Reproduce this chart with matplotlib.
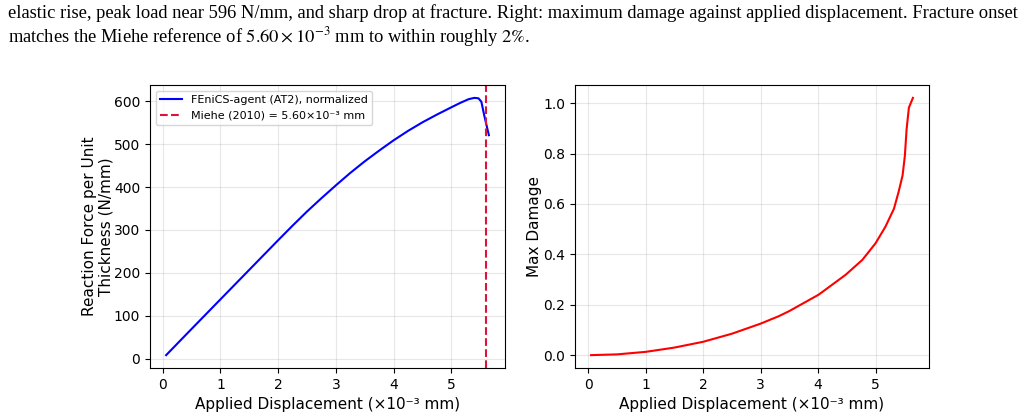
import numpy as np
import matplotlib
matplotlib.use("Agg")
import matplotlib.pyplot as plt

# displacement (x1e-3 mm) and reaction force per unit thickness (N/mm)
disp_f = [0.06, 0.5, 1.0, 1.5, 2.0, 2.25, 2.5, 2.75, 3.0, 3.25, 3.5, 3.75, 4.0, 4.25, 4.5, 4.75,
          5.0, 5.15, 5.3, 5.4, 5.47, 5.52, 5.57, 5.65]
force = [8, 69, 138, 207, 276, 310, 343, 374, 404, 433, 460, 485, 509, 531, 551, 569,
         586, 596, 605, 608, 607, 599, 567, 521]

# displacement vs max damage
disp_d = [0.05, 0.5, 1.0, 1.5, 2.0, 2.5, 3.0, 3.32, 3.5, 4.01, 4.48, 4.77, 5.0, 5.17, 5.32,
          5.40, 5.47, 5.51, 5.54, 5.58, 5.65]
damage = [0.0, 0.003, 0.013, 0.030, 0.053, 0.085, 0.125, 0.155, 0.175, 0.240, 0.319, 0.378, 0.444,
          0.509, 0.581, 0.647, 0.713, 0.791, 0.896, 0.982, 1.021]

miehe = 5.60

caption = ["elastic rise, peak load near 596 N/mm, and sharp drop at fracture. Right: maximum damage against applied displacement. Fracture onset",
           r"matches the Miehe reference of $5.60\times10^{-3}$ mm to within roughly $2\%$."]

plt.rcParams['mathtext.fontset'] = 'stix'
fig = plt.figure(figsize=(10.2, 4.15), dpi=100)

fig.text(8/1020, 1 - 13/415, caption[0], family='Liberation Serif', fontsize=13.3, va='center', ha='left')
fig.text(8/1020, 1 - 37/415, caption[1], family='Liberation Serif', fontsize=13.3, va='center', ha='left')

ax1 = fig.add_axes([150/1020, 47/415, 355/1020, 283/415])
ax2 = fig.add_axes([575/1020, 47/415, 354/1020, 283/415])

ax1.plot(disp_f, force, color='blue', lw=1.5, label='FEniCS-agent (AT2), normalized')
ax1.axvline(miehe, color='crimson', ls='--', lw=1.5, label='Miehe (2010) = 5.60×10⁻³ mm')
ax1.set_xlabel('Applied Displacement (×10⁻³ mm)', fontsize=11)
ax1.set_ylabel('Reaction Force per Unit\nThickness (N/mm)', fontsize=11, linespacing=1.05)
ax1.yaxis.set_label_coords(-0.104, 0.5)
ax1.legend(loc='upper left', fontsize=8)
ax1.grid(True, alpha=0.3)

ax2.plot(disp_d, damage, color='red', lw=1.5)
ax2.set_xlabel('Applied Displacement (×10⁻³ mm)', fontsize=11)
ax2.set_ylabel('Max Damage', fontsize=11)
ax2.yaxis.set_label_coords(-0.092, 0.5)
ax2.grid(True, alpha=0.3)

for ax in (ax1, ax2):
    ax.tick_params(labelsize=10)

fig.savefig('out.png', dpi=100)
